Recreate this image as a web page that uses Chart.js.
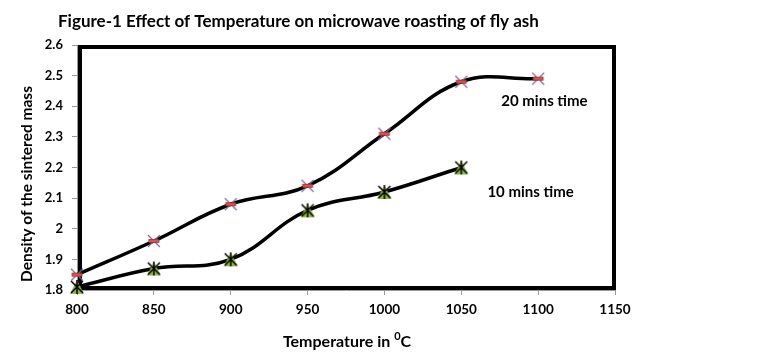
<!DOCTYPE html>
<html>
<head>
<meta charset="utf-8">
<script src="https://cdn.jsdelivr.net/npm/chart.js@4/dist/chart.umd.min.js"></script>
<style>
  html, body { margin: 0; padding: 0; background: #fff; }
  #wrap { width: 765px; height: 361px; }
</style>
</head>
<body>
<div id="wrap"><canvas id="chart" width="765" height="361"></canvas></div>
<script>
// Dados
const temps20 = [800, 850, 900, 950, 1000, 1050, 1100];
const dens20 = [1.85, 1.96, 2.08, 2.14, 2.31, 2.48, 2.49];
const temps10 = [800, 850, 900, 950, 1000, 1050];
const dens10 = [1.81, 1.87, 1.90, 2.06, 2.12, 2.20];

const xTicks = [800, 850, 900, 950, 1000, 1050, 1100, 1150];
const yTicks = [1.8, 1.9, 2.0, 2.1, 2.2, 2.3, 2.4, 2.5, 2.6];

const titleText = 'Figure-1 Effect of Temperature on microwave roasting of fly ash';
const yTitle = 'Density of the sintered mass';
const seriesLabels = ['20 mins time', '10 mins time'];
// posição dos rótulos em coordenadas de dados
const labelPos = [[1076, 2.417], [1067, 2.12]];

const FONT = 'Lato, "Open Sans", sans-serif';

// marcador estilo Excel: X roxo + traço vermelho
function marker20() {
    const c = document.createElement('canvas');
    c.width = 16; c.height = 16;
    const g = c.getContext('2d');
    g.strokeStyle = '#8064a2'; g.lineWidth = 1.2;
    g.beginPath();
    g.moveTo(2, 2); g.lineTo(14, 14);
    g.moveTo(14, 2); g.lineTo(2, 14);
    g.stroke();
    g.fillStyle = '#d9534f';
    g.fillRect(3, 6.5, 10, 3);
    g.strokeStyle = '#a0322e'; g.lineWidth = 0.8;
    g.strokeRect(3, 6.5, 10, 3);
    return c;
}

// triângulo verde + asterisco preto
function marker10() {
    const c = document.createElement('canvas');
    c.width = 16; c.height = 16;
    const g = c.getContext('2d');
    g.fillStyle = '#8fb447';
    g.beginPath();
    g.moveTo(8, 1); g.lineTo(15, 15); g.lineTo(1, 15);
    g.closePath(); g.fill();
    g.strokeStyle = '#000'; g.lineWidth = 1.5;
    g.beginPath();
    g.moveTo(2, 2); g.lineTo(14, 14);
    g.moveTo(14, 2); g.lineTo(2, 14);
    g.moveTo(8, 1); g.lineTo(8, 15);
    g.stroke();
    return c;
}

// Moldura preta e textos
const decor = {
    id: 'decor',
    beforeDatasetsDraw(chart) {
        const { ctx, chartArea: a } = chart;
        ctx.save();
        ctx.strokeStyle = '#000';
        ctx.lineWidth = 4;
        ctx.strokeRect(a.left + 3, a.top + 2, a.right - a.left - 4, a.bottom - a.top - 4);
        ctx.restore();
    },
    afterDraw(chart) {
        const { ctx } = chart;
        const xs = chart.scales.x, ys = chart.scales.y;
        ctx.save();
        ctx.fillStyle = '#000';
        ctx.textBaseline = 'middle';

        ctx.font = 'bold 17px ' + FONT;
        ctx.textAlign = 'left';
        ctx.fillText(titleText, 58, 22);

        ctx.font = 'bold 15px ' + FONT;
        labelPos.forEach((p, i) => {
            ctx.fillText(seriesLabels[i], xs.getPixelForValue(p[0]), ys.getPixelForValue(p[1]));
        });

        // título do eixo X com expoente
        ctx.font = 'bold 16px ' + FONT;
        const t1 = 'Temperature in ';
        const w1 = ctx.measureText(t1).width;
        ctx.font = 'bold 11px ' + FONT;
        const w2 = ctx.measureText('0').width;
        ctx.font = 'bold 16px ' + FONT;
        const w3 = ctx.measureText('C').width;
        let x0 = 347 - (w1 + w2 + w3) / 2;
        ctx.fillText(t1, x0, 342);
        ctx.font = 'bold 11px ' + FONT;
        ctx.fillText('0', x0 + w1, 336);
        ctx.font = 'bold 16px ' + FONT;
        ctx.fillText('C', x0 + w1 + w2, 342);

        // título do eixo Y
        ctx.font = 'bold 15.5px ' + FONT;
        ctx.translate(27, 184);
        ctx.rotate(-Math.PI / 2);
        ctx.textAlign = 'center';
        ctx.fillText(yTitle, 0, 0);
        ctx.restore();
    }
};

const p20 = marker20();
const p10 = marker10();

new Chart(document.getElementById('chart'), {
    type: 'line',
    data: {
        datasets: [
            {
                label: seriesLabels[0],
                data: temps20.map((t, i) => ({ x: t, y: dens20[i] })),
                borderColor: '#000',
                borderWidth: 3.5,
                tension: 0.4,
                pointStyle: p20,
                pointRadius: 8
            },
            {
                label: seriesLabels[1],
                data: temps10.map((t, i) => ({ x: t, y: dens10[i] })),
                borderColor: '#000',
                borderWidth: 3.5,
                tension: 0.4,
                pointStyle: p10,
                pointRadius: 8
            }
        ]
    },
    options: {
        responsive: false,
        animation: false,
        clip: false,
        layout: { padding: { left: 0, right: 150, top: 45, bottom: 0 } },
        plugins: {
            legend: { display: false },
            tooltip: { enabled: false },
            title: { display: false }
        },
        scales: {
            x: {
                type: 'linear',
                min: 800, max: 1150,
                afterFit: s => { s.height = 71; },
                afterBuildTicks: s => { s.ticks = xTicks.map(v => ({ value: v })); },
                grid: { drawOnChartArea: false, tickLength: 5, color: '#999' },
                border: { color: '#999', width: 1 },
                ticks: {
                    color: '#000', font: { family: FONT, weight: 'bold', size: 13.5 }, padding: 7,
                    callback: v => String(v)
                }
            },
            y: {
                min: 1.8, max: 2.6,
                afterFit: s => { s.width = 77; },
                afterBuildTicks: s => { s.ticks = yTicks.map(v => ({ value: v })); },
                grid: { drawOnChartArea: false, tickLength: 5, color: '#999' },
                border: { color: '#999', width: 1 },
                ticks: {
                    color: '#000', font: { family: FONT, weight: 'bold', size: 13 }, padding: 9,
                    callback: v => String(Math.round(v * 10) / 10)
                }
            }
        }
    },
    plugins: [decor]
});
</script>
</body>
</html>
